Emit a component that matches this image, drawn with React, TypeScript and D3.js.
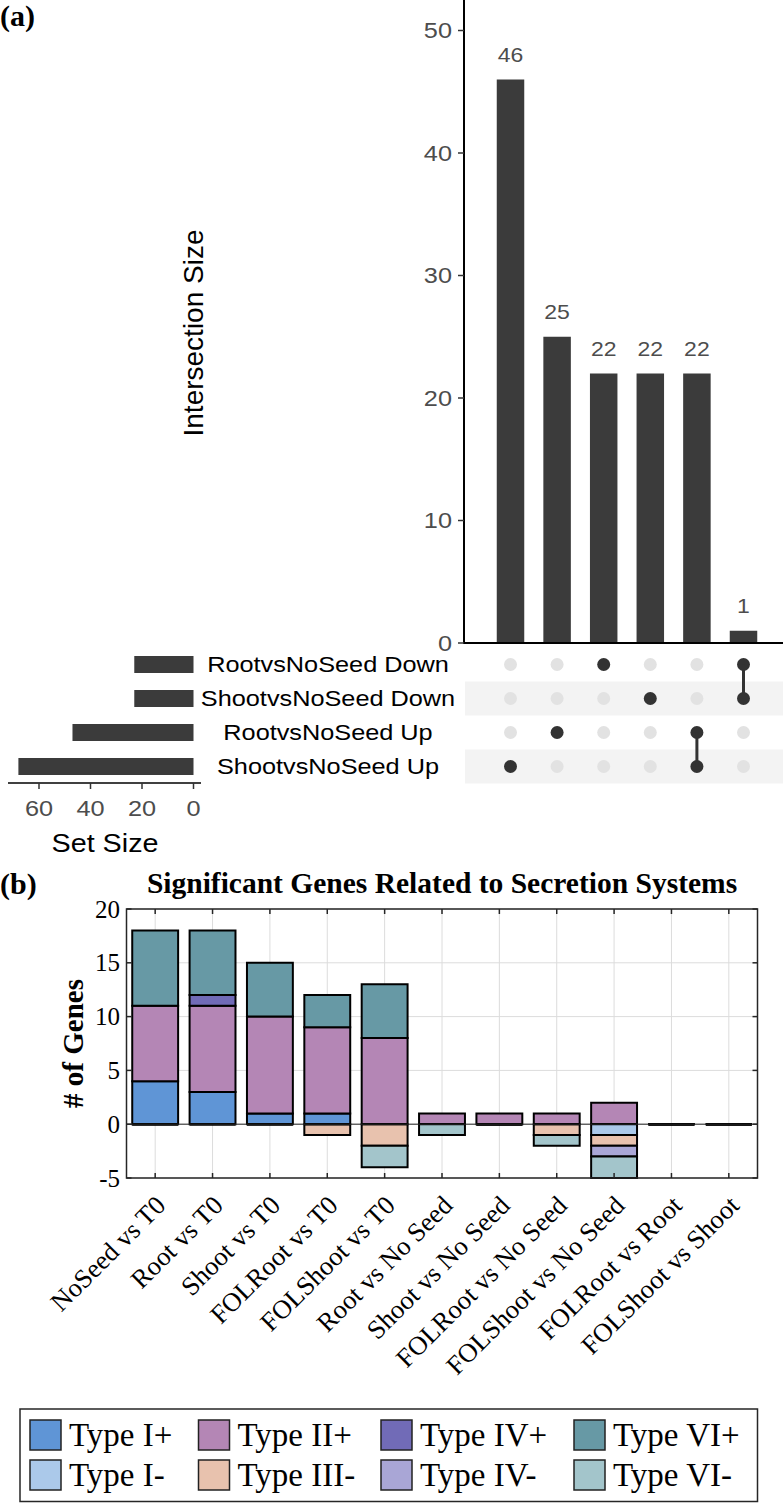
import React from 'react';
import * as d3 from 'd3';

// ---------- (a) UpSet plot data ----------
const setNames = ['RootvsNoSeed Down', 'ShootvsNoSeed Down', 'RootvsNoSeed Up', 'ShootvsNoSeed Up'];
const setSizes = [23, 23, 47, 68];
const intersectionSizes = [46, 25, 22, 22, 22, 1];
const intersectionMembers = [
  ['ShootvsNoSeed Up'],
  ['RootvsNoSeed Up'],
  ['RootvsNoSeed Down'],
  ['ShootvsNoSeed Down'],
  ['RootvsNoSeed Up', 'ShootvsNoSeed Up'],
  ['RootvsNoSeed Down', 'ShootvsNoSeed Down'],
];
const intersectionTicks = [0, 10, 20, 30, 40, 50];
const setSizeTicks = [0, 20, 40, 60];

// ---------- (b) secretion system data ----------
const comparisons = [
  'NoSeed vs T0', 'Root vs T0', 'Shoot vs T0', 'FOLRoot vs T0', 'FOLShoot vs T0',
  'Root vs No Seed', 'Shoot vs No Seed', 'FOLRoot vs No Seed', 'FOLShoot vs No Seed',
  'FOLRoot vs Root', 'FOLShoot vs Shoot',
];
const typeIPlus = [4, 3, 1, 1, 0, 0, 0, 0, 0, 0, 0];
const typeIIPlus = [7, 8, 9, 8, 8, 1, 1, 1, 2, 0, 0];
const typeIVPlus = [0, 1, 0, 0, 0, 0, 0, 0, 0, 0, 0];
const typeVIPlus = [7, 6, 5, 3, 5, 0, 0, 0, 0, 0, 0];
const typeIMinus = [0, 0, 0, 0, 0, 0, 0, 0, -1, 0, 0];
const typeIIIMinus = [0, 0, 0, -1, -2, 0, 0, -1, -1, 0, 0];
const typeIVMinus = [0, 0, 0, 0, 0, 0, 0, 0, -1, 0, 0];
const typeVIMinus = [0, 0, 0, 0, -2, -1, 0, -1, -2, 0, 0];
const geneTicks = [-5, 0, 5, 10, 15, 20];

const seriesNames = ['Type I+', 'Type II+', 'Type IV+', 'Type VI+', 'Type I-', 'Type III-', 'Type IV-', 'Type VI-'];
const seriesValues = [typeIPlus, typeIIPlus, typeIVPlus, typeVIPlus, typeIMinus, typeIIIMinus, typeIVMinus, typeVIMinus];
const seriesColors = ['#5f95d6', '#b486b5', '#716bb7', '#6799a5', '#abc9ea', '#e8c2ae', '#a9a6d6', '#a3c5cb'];
const legendRows = [
  ['Type I+', 'Type II+', 'Type IV+', 'Type VI+'],
  ['Type I-', 'Type III-', 'Type IV-', 'Type VI-'],
];

const SANS = '"Liberation Sans", Arial, Helvetica, sans-serif';
const SERIF = '"Liberation Serif", "Times New Roman", Times, serif';
const STRETCH = 1.15;

function SText({ x, y, size, anchor = 'start', fill = '#000', children, dy = '0' }: any) {
  return (
    <text
      transform={`translate(${x},${y}) scale(${STRETCH},1)`}
      textAnchor={anchor}
      fontFamily={SANS}
      fontSize={size}
      fill={fill}
      dy={dy}
    >
      {children}
    </text>
  );
}

function UpSetPanel() {
  const yInt = d3.scaleLinear().domain([0, 50]).range([643, 30.5]);
  const xInt = d3
    .scaleBand<number>()
    .domain(d3.range(intersectionSizes.length))
    .range([487.2, 766.8])
    .paddingInner(0.41)
    .paddingOuter(0.205);
  const yRow = d3.scaleBand<string>().domain(setNames).range([647.5, 783.5]);
  const xSet = d3.scaleLinear().domain([0, 60]).range([193.5, 39]);
  const axisX = 464;
  const grey = '#4d4d4d';
  const dark = '#3b3b3b';

  return (
    <g>
      <text x={0} y={26} fontFamily={SERIF} fontWeight="bold" fontSize={30}>(a)</text>

      {/* intersection size bars */}
      {intersectionSizes.map((v, i) => (
        <g key={'ib' + i}>
          <rect x={xInt(i)} y={yInt(v)} width={xInt.bandwidth()} height={yInt(0) - yInt(v)} fill={dark} />
          <SText x={xInt(i)! + xInt.bandwidth() / 2} y={yInt(v) - 18} size={20} anchor="middle" fill={grey}>
            {v}
          </SText>
        </g>
      ))}
      <line x1={axisX} x2={axisX} y1={0} y2={644} stroke="#000" strokeWidth={2} />
      <line x1={axisX - 1} x2={783} y1={643} y2={643} stroke="#000" strokeWidth={2} />
      {intersectionTicks.map((t) => (
        <g key={'it' + t}>
          <line x1={axisX - 6} x2={axisX} y1={yInt(t)} y2={yInt(t)} stroke="#333" strokeWidth={1.5} />
          <SText x={axisX - 12} y={yInt(t)} dy="0.36em" size={22} anchor="end" fill={grey}>
            {t}
          </SText>
        </g>
      ))}
      <text
        transform="translate(203,333) rotate(-90)"
        textAnchor="middle"
        fontFamily={SANS}
        fontSize={28}
      >
        Intersection Size
      </text>

      {/* matrix */}
      {setNames.map((s, r) =>
        r % 2 === 1 ? (
          <rect key={'band' + s} x={465} y={yRow(s)} width={783 - 465} height={yRow.bandwidth()} fill="#f3f3f3" />
        ) : null,
      )}
      {intersectionMembers.map((members, i) => {
        const cx = xInt(i)! + xInt.bandwidth() / 2;
        const ys = members.map((m) => yRow(m)! + yRow.bandwidth() / 2);
        return (
          <g key={'col' + i}>
            {setNames.map((s) => (
              <circle
                key={s}
                cx={cx}
                cy={yRow(s)! + yRow.bandwidth() / 2}
                r={6.5}
                fill={members.includes(s) ? '#333333' : '#e2e2e2'}
              />
            ))}
            {ys.length > 1 && (
              <line x1={cx} x2={cx} y1={d3.min(ys)} y2={d3.max(ys)} stroke="#333" strokeWidth={3} />
            )}
          </g>
        );
      })}
      {setNames.map((s) => (
        <SText key={'lab' + s} x={328} y={yRow(s)! + yRow.bandwidth() / 2} dy="0.36em" size={22} anchor="middle">
          {s}
        </SText>
      ))}

      {/* set size bars */}
      {setNames.map((s, i) => (
        <rect
          key={'sb' + s}
          x={xSet(setSizes[i])}
          y={yRow(s)! + yRow.bandwidth() / 2 - 8.5}
          width={xSet(0) - xSet(setSizes[i])}
          height={17}
          fill={dark}
        />
      ))}
      <line x1={8} x2={201} y1={783} y2={783} stroke="#000" strokeWidth={1.5} />
      {setSizeTicks.map((t) => (
        <g key={'st' + t}>
          <line x1={xSet(t)} x2={xSet(t)} y1={783} y2={789} stroke="#333" strokeWidth={1.5} />
          <SText x={xSet(t)} y={816} size={22} anchor="middle" fill={grey}>
            {t}
          </SText>
        </g>
      ))}
      <SText x={105} y={852} size={25} anchor="middle">Set Size</SText>
    </g>
  );
}

function SecretionPanel() {
  const left = 126.5;
  const right = 757.5;
  const top = 909;
  const bottom = 1178;
  const x = d3.scaleBand<string>().domain(comparisons).range([left, right]).padding(0);
  const y = d3.scaleLinear().domain([-5, 20]).range([bottom, top]);
  const barW = x.bandwidth() * 0.8;
  const axisColor = '#262626';

  const rows = comparisons.map((c, j) => {
    const o: any = { comparison: c };
    seriesNames.forEach((n, k) => (o[n] = seriesValues[k][j]));
    return o;
  });
  const stacked = d3.stack<any>().keys(seriesNames).offset(d3.stackOffsetDiverging)(rows);

  return (
    <g>
      <text x={0} y={894} fontFamily={SERIF} fontWeight="bold" fontSize={30}>(b)</text>
      <text x={(left + right) / 2} y={893} textAnchor="middle" fontFamily={SERIF} fontWeight="bold" fontSize={29.5}>
        Significant Genes Related to Secretion Systems
      </text>

      {/* grid */}
      {comparisons.map((c) => (
        <line
          key={'gx' + c}
          x1={x(c)! + x.bandwidth() / 2}
          x2={x(c)! + x.bandwidth() / 2}
          y1={top}
          y2={bottom}
          stroke="#dcdcdc"
          strokeWidth={1}
        />
      ))}
      {geneTicks.map((t) => (
        <line key={'gy' + t} x1={left} x2={right} y1={y(t)} y2={y(t)} stroke="#dcdcdc" strokeWidth={1} />
      ))}

      {/* stacked bars */}
      {stacked.map((layer, k) => (
        <g key={'layer' + k}>
          {layer.map((d, j) => {
            const cx = x(comparisons[j])! + x.bandwidth() / 2;
            const y0 = y(d[0]);
            const y1 = y(d[1]);
            const x0 = cx - barW / 2;
            return (
              <path
                key={j}
                d={`M${x0},${y0}H${x0 + barW}V${y1}H${x0}Z`}
                fill={seriesColors[k]}
                stroke="#000"
                strokeWidth={2}
                strokeLinejoin="miter"
              />
            );
          })}
        </g>
      ))}

      {/* baseline */}
      <line x1={left} x2={right} y1={y(0)} y2={y(0)} stroke={axisColor} strokeWidth={1} />

      {/* axes box and ticks */}
      <rect x={left} y={top} width={right - left} height={bottom - top} fill="none" stroke={axisColor} strokeWidth={1.5} />
      {comparisons.map((c) => {
        const cx = x(c)! + x.bandwidth() / 2;
        return (
          <g key={'xt' + c}>
            <line x1={cx} x2={cx} y1={bottom} y2={bottom - 5} stroke={axisColor} strokeWidth={1.5} />
            <line x1={cx} x2={cx} y1={top} y2={top + 5} stroke={axisColor} strokeWidth={1.5} />
            <text
              transform={`translate(${cx + 12},1207) rotate(-45)`}
              textAnchor="end"
              fontFamily={SERIF}
              fontSize={26.5}
              fill="#000"
            >
              {c}
            </text>
          </g>
        );
      })}
      {geneTicks.map((t) => (
        <g key={'yt' + t}>
          <line x1={left} x2={left + 5} y1={y(t)} y2={y(t)} stroke={axisColor} strokeWidth={1.5} />
          <line x1={right} x2={right - 5} y1={y(t)} y2={y(t)} stroke={axisColor} strokeWidth={1.5} />
          <text x={120} y={y(t)} dy="0.34em" textAnchor="end" fontFamily={SERIF} fontSize={25} fill="#000">
            {t}
          </text>
        </g>
      ))}
      <text
        transform={`translate(83,${(top + bottom) / 2}) rotate(-90)`}
        textAnchor="middle"
        fontFamily={SERIF}
        fontWeight="bold"
        fontSize={29}
      >
        # of Genes
      </text>

      {/* legend */}
      <rect x={20} y={1409} width={737.5} height={92.5} fill="#fff" stroke={axisColor} strokeWidth={1.5} />
      {legendRows.map((row, r) =>
        row.map((name, cIdx) => {
          const colX = [30, 198.5, 381, 574][cIdx];
          const cy = [1435, 1475][r];
          const k = seriesNames.indexOf(name);
          return (
            <g key={name}>
              <rect x={colX} y={cy - 15} width={31} height={30} fill={seriesColors[k]} stroke="#222" strokeWidth={1.5} />
              <text x={colX + 39} y={cy} dy="0.34em" fontFamily={SERIF} fontSize={33} fill="#000">
                {name}
              </text>
            </g>
          );
        }),
      )}
    </g>
  );
}

export default function App() {
  return (
    <svg
      width={783}
      height={1503}
      viewBox="0 0 783 1503"
      style={{ position: 'absolute', left: 0, top: 0, background: '#fff' }}
    >
      <rect x={0} y={0} width={783} height={1503} fill="#fff" />
      <UpSetPanel />
      <SecretionPanel />
    </svg>
  );
}
